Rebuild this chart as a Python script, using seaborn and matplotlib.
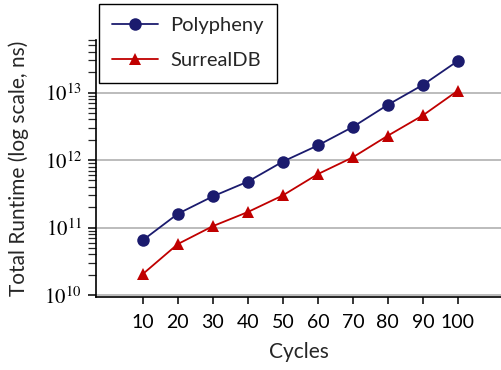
import pandas as pd
import numpy as np
import matplotlib
matplotlib.use('Agg')
import matplotlib.pyplot as plt
import matplotlib.ticker as mticker
import seaborn as sns

# data
cycles = [10, 20, 30, 40, 50, 60, 70, 80, 90, 100]
polypheny = [6.5e10, 1.6e11, 2.9e11, 4.8e11, 9.5e11, 1.65e12, 3.1e12, 6.6e12, 1.3e13, 2.95e13]
surrealdb = [2.05e10, 5.7e10, 1.05e11, 1.7e11, 3.0e11, 6.2e11, 1.1e12, 2.3e12, 4.6e12, 1.07e13]
systems = ['Polypheny', 'SurrealDB']

df = pd.DataFrame({
    'Cycles': cycles * 2,
    'Runtime': polypheny + surrealdb,
    'System': [systems[0]] * len(cycles) + [systems[1]] * len(cycles),
})

sns.set_style('ticks')
plt.rcParams['font.family'] = ['Lato', 'DejaVu Sans']
plt.rcParams['mathtext.fontset'] = 'stix'

fig = plt.figure(figsize=(5.02, 3.70), dpi=100)
ax = fig.add_axes([0.191, 0.197, 0.809, 0.695])

sns.lineplot(data=df, x='Cycles', y='Runtime', hue='System', style='System',
             palette={'Polypheny': '#1b1b6e', 'SurrealDB': '#c00000'},
             markers={'Polypheny': 'o', 'SurrealDB': '^'}, dashes=False,
             markersize=9, linewidth=1.3, markeredgewidth=0, ax=ax)

ax.set_yscale('log')
ax.set_ylim(10**9.97, 10**13.78)
ax.set_xlim(-3.4, 112.6)
ax.set_xticks(cycles)
ax.yaxis.set_major_locator(mticker.LogLocator(base=10, numticks=10))
ax.yaxis.set_minor_locator(mticker.LogLocator(base=10, subs=np.arange(2, 10), numticks=20))
ax.yaxis.set_minor_formatter(mticker.NullFormatter())
ax.yaxis.set_major_formatter(mticker.FuncFormatter(lambda v, p: r'$\mathrm{10}^{%d}$' % round(np.log10(v))))
ax.grid(axis='y', which='major', color='#b0b0b0', linewidth=1.2)
ax.set_axisbelow(True)

for s in ['top', 'right']:
    ax.spines[s].set_visible(False)
for s in ['left', 'bottom']:
    ax.spines[s].set_linewidth(1.2)
    ax.spines[s].set_color('black')

ax.tick_params(axis='x', which='major', length=5, width=1.1, labelsize=14, pad=7, colors='black')
ax.tick_params(axis='y', which='major', length=6, width=1.1, labelsize=15, pad=4, colors='black')
ax.tick_params(axis='y', which='minor', length=6, width=0.9)

ax.set_xlabel('Cycles', fontsize=15, labelpad=8)
ax.set_ylabel('Total Runtime (log scale, ns)', fontsize=15, labelpad=11)

leg = ax.legend(loc='upper left', bbox_to_anchor=(0.197, 0.989), bbox_transform=fig.transFigure,
                borderaxespad=0, fontsize=14.5, frameon=True, fancybox=False,
                edgecolor='black', handlelength=2.3, labelspacing=0.9, borderpad=0.65,
                handletextpad=0.6)
leg.get_frame().set_linewidth(1.0)
leg.get_frame().set_alpha(1)

fig.savefig('out.png', dpi=100)
